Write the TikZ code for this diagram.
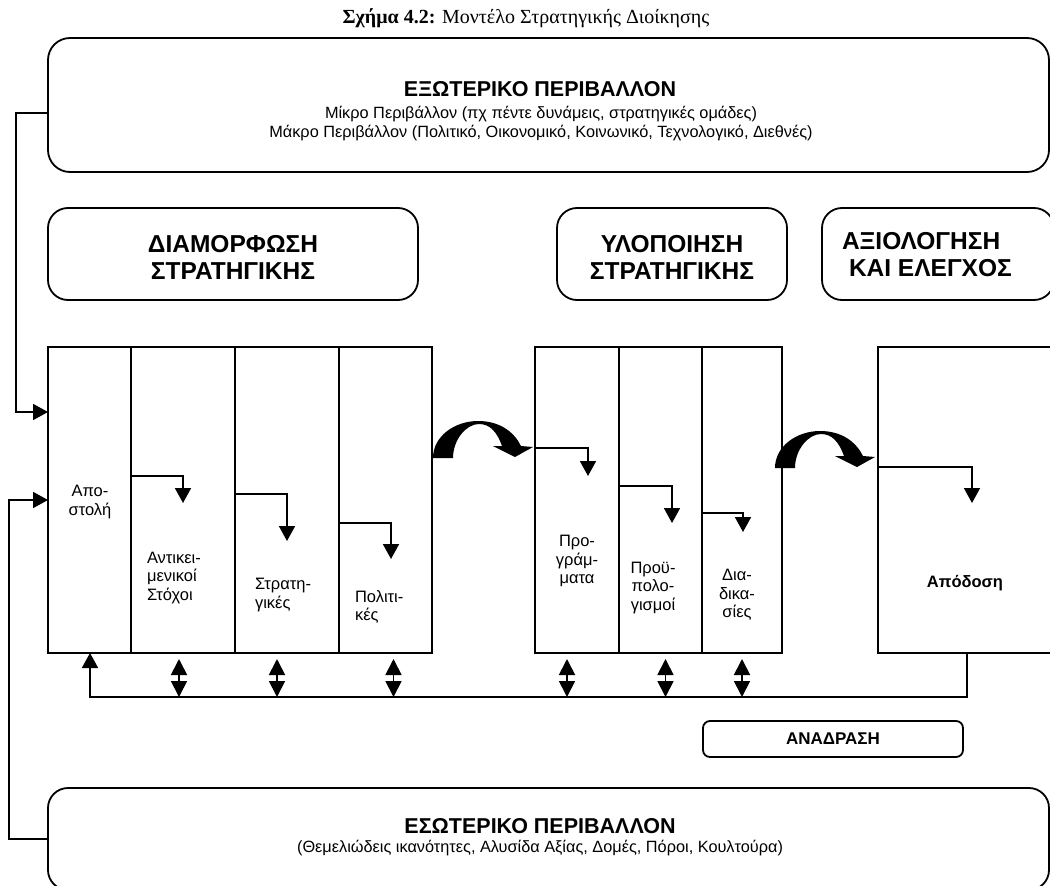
\documentclass[tikz,border=0pt]{standalone}
\usepackage{fontspec}
\setmainfont{Liberation Sans}
\newfontfamily\titlefont{Liberation Serif}
\usetikzlibrary{arrows.meta,calc}
\begin{document}
\begin{tikzpicture}[x=1pt,y=-1pt,
  every node/.style={inner sep=0pt, outer sep=0pt},
  ln/.style={line width=1.8pt},
  rbox/.style={draw, ln, rounded corners=20pt, anchor=north west},
  colbox/.style={draw, ln, anchor=north west, minimum height=306pt},
  arr/.style={ln, -{Triangle[width=16pt,length=15pt]}},
  dbl/.style={ln, {Triangle[width=16pt,length=16pt]}-{Triangle[width=16pt,length=16pt]}},
  hd/.style={font=\fontsize{24.5}{27}\selectfont\bfseries, align=center},
  envhd/.style={font=\fontsize{21.5}{24}\selectfont\bfseries},
  sub/.style={font=\fontsize{16.3}{19}\selectfont, align=center},
  lbl/.style={font=\fontsize{16.5}{18.5}\selectfont},
]
\useasboundingbox (0,0) rectangle (1050,886);

% title
\node[font=\titlefont\fontsize{20}{22}\selectfont] (title) at (526,18)
  {\textbf{Σχήμα 4.2:} Μοντέλο Στρατηγικής Διοίκησης};

% external environment
\node[rbox, rounded corners=22pt, minimum width=1001pt, minimum height=134pt] (ext) at (48,38) {};
\node[envhd] (extT) at (540,89) {ΕΞΩΤΕΡΙΚΟ ΠΕΡΙΒΑΛΛΟΝ};
\node[sub] (extS) at (541,124) {Μίκρο Περιβάλλον (πχ πέντε δυνάμεις, στρατηγικές ομάδες)\\
  Μάκρο Περιβάλλον (Πολιτικό, Οικονομικό, Κοινωνικό, Τεχνολογικό, Διεθνές)};

% stage headings
\node[rbox, minimum width=370pt, minimum height=92pt] (form) at (48,208) {};
\node[hd] (formT) at (233,257) {ΔΙΑΜΟΡΦΩΣΗ\\ΣΤΡΑΤΗΓΙΚΗΣ};
\node[rbox, minimum width=230pt, minimum height=92pt] (impl) at (557,208) {};
\node[hd] (implT) at (672,257) {ΥΛΟΠΟΙΗΣΗ\\ΣΤΡΑΤΗΓΙΚΗΣ};
\node[rbox, minimum width=232pt, minimum height=92pt] (eval) at (822,208) {};
\node[hd, align=left, anchor=west] (evalT) at (842,255) {ΑΞΙΟΛΟΓΗΣΗ\\\hspace*{7pt}ΚΑΙ ΕΛΕΓΧΟΣ};

% columns
\node[colbox, minimum width=83pt]  (c1) at (48,347) {};
\node[colbox, minimum width=104pt] (c2) at (131,347) {};
\node[colbox, minimum width=104pt] (c3) at (235,347) {};
\node[colbox, minimum width=93pt]  (c4) at (339,347) {};
\node[colbox, minimum width=84pt]  (i1) at (535,347) {};
\node[colbox, minimum width=83pt]  (i2) at (619,347) {};
\node[colbox, minimum width=80pt]  (i3) at (702,347) {};
\node[colbox, minimum width=178pt] (ap) at (878,347) {};

% column labels
\node[lbl, align=center] (l1) at (90,502) {Απο-\\στολή};
\node[lbl, align=left, anchor=west] (l2) at (147,578) {Αντικει-\\μενικοί\\Στόχοι};
\node[lbl, align=left, anchor=west] (l3) at (255,595) {Στρατη-\\γικές};
\node[lbl, align=left, anchor=west] (l4) at (355,607) {Πολιτι-\\κές};
\node[lbl, align=center] (l5) at (577,561) {Προ-\\γράμ-\\ματα};
\node[lbl, align=center] (l6) at (653,588) {Προϋ-\\πολο-\\γισμοί};
\node[lbl, align=center] (l7) at (737,595) {Δια-\\δικα-\\σίες};
\node[lbl, font=\fontsize{16.5}{18.5}\selectfont\bfseries] (l8) at (965,583) {Απόδοση};

% arrows inside columns
\draw[arr] (c2.west |- 0,476) -| (183,503);
\draw[arr] (c3.west |- 0,494) -| (287,541);
\draw[arr] (c4.west |- 0,523) -| (391,559);
\draw[arr] (i1.west |- 0,448) -| (588,476);
\draw[arr] (i2.west |- 0,486) -| (672,523);
\draw[arr] (i3.west |- 0,513) -| (743,532);
\draw[arr] (ap.west |- 0,467) -| (972,503);

% curved transition arrows
\foreach \dx/\dy in {0/0,342/10}{
  \fill[shift={(\dx,\dy)}] (433,458) .. controls (433,436) and (455,421) .. (478,421)
    .. controls (500,421) and (514,432) .. (521,446) -- (533,447) -- (515,457) -- (493,446)
    -- (502,446) .. controls (497,432) and (490,424) .. (479,424)
    .. controls (466,424) and (453,440) .. (453,458) -- cycle;
}

% feedback loop
\coordinate (fbl) at (90,697);
\draw[arr] (ap.south) |- (fbl) -- (fbl |- c1.south);
\foreach \n/\dx in {c2/-4,c3/-10,c4/8,i1/-10,i2/5,i3/0}{
  \draw[dbl] ($(fbl -| \n.south)+(\dx,0)$) -- ($(\n.south)+(\dx,6)$);
}
\node[draw, ln, rounded corners=7pt, minimum width=260pt, minimum height=36pt, anchor=north west,
  font=\fontsize{17}{19}\selectfont\bfseries] (fb) at (703,721) {ΑΝΑΔΡΑΣΗ};

% internal environment
\node[rbox, minimum width=1001pt, minimum height=102pt] (int) at (48,788) {};
\node[envhd] (intT) at (540,826) {ΕΣΩΤΕΡΙΚΟ ΠΕΡΙΒΑΛΛΟΝ};
\node[sub] (intS) at (540,848) {(Θεμελιώδεις ικανότητες, Αλυσίδα Αξίας, Δομές, Πόροι, Κουλτούρα)};

% environment connectors
\draw[arr] ([yshift=-8pt]ext.west) -- ++(-32,0) |- ([yshift=88pt]c1.west);
\draw[arr] (int.west) -- ++(-39,0) |- (c1.west);
\end{tikzpicture}
\end{document}
